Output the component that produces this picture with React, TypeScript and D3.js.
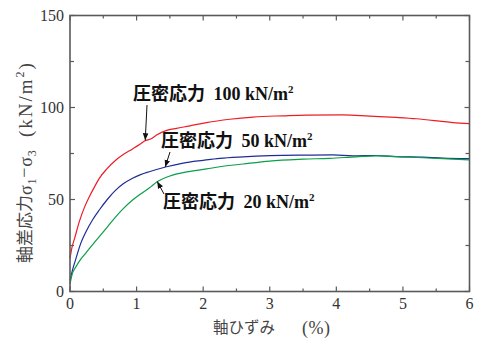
import React from "react";
import * as d3 from "d3";

const W = 479;
const H = 341;

const xTicks = [0, 1, 2, 3, 4, 5, 6];
const yTicks = [0, 50, 100, 150];

const redX = [0, 0.03, 0.07, 0.14, 0.22, 0.29, 0.37, 0.44, 0.55, 0.69, 0.8, 0.94, 1.05, 1.12, 1.22, 1.3, 1.45, 1.6, 1.8, 2.05, 2.4, 2.75, 3.2, 3.55, 4.1, 4.5, 4.9, 5.2, 5.55, 5.75, 6.0];
const redY = [18, 24, 29, 38, 46, 51.5, 57, 61.5, 66.5, 71.5, 74.5, 77.5, 80, 81.8, 83, 85, 87.6, 88.7, 90, 91.8, 93.6, 94.8, 95.5, 95.9, 96.0, 95.3, 94.6, 93.9, 92.6, 91.8, 91.2];

const blueX = [0, 0.04, 0.09, 0.16, 0.24, 0.34, 0.44, 0.56, 0.69, 0.8, 0.94, 1.06, 1.19, 1.3, 1.45, 1.7, 2.0, 2.25, 2.6, 3.0, 3.5, 3.95, 4.25, 4.6, 4.9, 5.3, 5.6, 6.0];
const blueY = [6, 12, 18, 26, 32.5, 39, 44.3, 50, 55.2, 58.5, 61.5, 63.5, 65.1, 66.3, 67.8, 69.8, 71.3, 72.4, 73.2, 73.8, 74.1, 74.2, 73.7, 73.9, 73.3, 73.0, 72.5, 72.2];

const greenX = [0, 0.03, 0.09, 0.16, 0.24, 0.34, 0.44, 0.56, 0.69, 0.8, 0.94, 1.06, 1.19, 1.25, 1.32, 1.5, 1.75, 2.05, 2.25, 2.6, 3.0, 3.5, 3.9, 4.3, 4.6, 4.9, 5.3, 5.6, 6.0];
const greenY = [4, 9, 13.5, 17.5, 21, 25.5, 29.8, 35, 40.7, 45, 49.7, 53, 56.2, 58, 59.9, 62.8, 65, 66.6, 67.8, 69.3, 70.9, 71.9, 72.4, 73.2, 73.7, 73.3, 72.7, 72.2, 71.5];

const labelJa = "圧密応力";
const labelVals = ["100", "50", "20"];

const SERIF = "'Liberation Serif', 'DejaVu Serif', serif";
const JA = "'Noto Sans CJK JP', sans-serif";

export default function App() {
  const x = d3.scaleLinear().domain([0, 6]).range([70, 469.5]);
  const y = d3.scaleLinear().domain([0, 150]).range([291.5, 15.5]);
  const line = d3
    .line<[number, number]>()
    .x((d) => x(d[0]))
    .y((d) => y(d[1]))
    .curve(d3.curveMonotoneX);

  const series = [
    { xs: redX, ys: redY, color: "#ee1c25" },
    { xs: blueX, ys: blueY, color: "#1e2d96" },
    { xs: greenX, ys: greenY, color: "#0a9e48" },
  ];

  const frame = "#5a5a5a";
  const xMinor = d3.range(0, 6.01, 0.5);
  const yMinor = d3.range(0, 150.1, 25);

  const ann = [
    { tx: 133, ty: 100, val: labelVals[0], ax1: 147, ay1: 105, ax2: x(1.13), ay2: y(82.2) },
    { tx: 161, ty: 147, val: labelVals[1], ax1: 170, ay1: 152, ax2: x(1.43), ay2: y(67.7) },
    { tx: 163, ty: 208, val: labelVals[2], ax1: 164, ay1: 194, ax2: x(1.31), ay2: y(59.8) },
  ];

  return (
    <svg
      width={W}
      height={H}
      style={{ position: "absolute", left: 0, top: 0, background: "#fff" }}
    >
      <defs>
        <marker id="ah" viewBox="0 0 10 10" refX="10" refY="5" markerWidth="7" markerHeight="7" orient="auto-start-reverse" markerUnits="userSpaceOnUse">
          <path d="M0,1 L10,5 L0,9 Z" fill="#111" />
        </marker>
      </defs>
      {series.map((s, i) => (
        <path
          key={i}
          d={line(s.xs.map((v, j) => [v, s.ys[j]] as [number, number])) || ""}
          fill="none"
          stroke={s.color}
          strokeWidth={1.2}
        />
      ))}
      <rect x={x(0)} y={y(150)} width={x(6) - x(0)} height={y(0) - y(150)} fill="none" stroke={frame} strokeWidth={1.6} />
      {xMinor.map((t) => {
        const major = Math.abs(t - Math.round(t)) < 1e-6;
        const len = major ? 5 : 3;
        return (
          <g key={"xt" + t}>
            <line x1={x(t)} x2={x(t)} y1={y(0)} y2={y(0) - len} stroke={frame} strokeWidth={1.2} />
            <line x1={x(t)} x2={x(t)} y1={y(150)} y2={y(150) + len} stroke={frame} strokeWidth={1.2} />
          </g>
        );
      })}
      {yMinor.map((t) => {
        const major = t % 50 === 0;
        const len = major ? 5 : 4;
        return (
          <g key={"yt" + t}>
            <line x1={x(0)} x2={x(0) + len} y1={y(t)} y2={y(t)} stroke={frame} strokeWidth={1.2} />
            <line x1={x(6)} x2={x(6) - len} y1={y(t)} y2={y(t)} stroke={frame} strokeWidth={1.2} />
          </g>
        );
      })}
      {xTicks.map((t) => (
        <text key={"xl" + t} x={x(t)} y={309} textAnchor="middle" fontFamily={SERIF} fontSize={16} fill="#333">
          {t}
        </text>
      ))}
      {yTicks.map((t) => (
        <text key={"yl" + t} x={64} y={y(t) + 5.5} textAnchor="end" fontFamily={SERIF} fontSize={16} fill="#333">
          {t}
        </text>
      ))}
      {/* x label */}
      <text x={213} y={333} fontSize={15.5} fill="#444" fontFamily={JA} fontWeight={400}>
        軸ひずみ
      </text>
      <text x={302} y={334} fontSize={18} fill="#444" fontFamily={SERIF} letterSpacing={0.5}>
        (%)
      </text>
      {/* y label */}
      <text transform="translate(31,263) rotate(-90)" fontSize={17} fill="#444" fontFamily={JA} fontWeight={400}>
        軸差応力
      </text>
      <text transform="translate(32,195) rotate(-90)" fontSize={18} fill="#444" fontFamily={SERIF} letterSpacing={0.8}>
        <tspan>σ</tspan>
        <tspan fontSize={12} dy={4}>1</tspan>
        <tspan dy={-6}>−</tspan>
        <tspan dy={2}>σ</tspan>
        <tspan fontSize={12} dy={4}>3</tspan>
      </text>
      <text transform="translate(32,137) rotate(-90)" fontSize={19} fill="#444" fontFamily={SERIF} letterSpacing={2}>
        <tspan>(kN/m</tspan>
        <tspan fontSize={12} dy={-8}>2</tspan>
        <tspan dy={8}>)</tspan>
      </text>
      {ann.map((a, i) => (
        <g key={"a" + i}>
          <text x={a.tx} y={a.ty} fontSize={18} fill="#111">
            <tspan fontFamily={JA} fontWeight={700}>{labelJa}</tspan>
            <tspan fontFamily={SERIF} fontWeight={700} dx={4}>{" " + a.val + " kN/m"}</tspan>
            <tspan fontFamily={SERIF} fontWeight={700} fontSize={11} dy={-7}>2</tspan>
          </text>
          <line x1={a.ax1} y1={a.ay1} x2={a.ax2} y2={a.ay2} stroke="#111" strokeWidth={1} markerEnd="url(#ah)" />
        </g>
      ))}
    </svg>
  );
}
